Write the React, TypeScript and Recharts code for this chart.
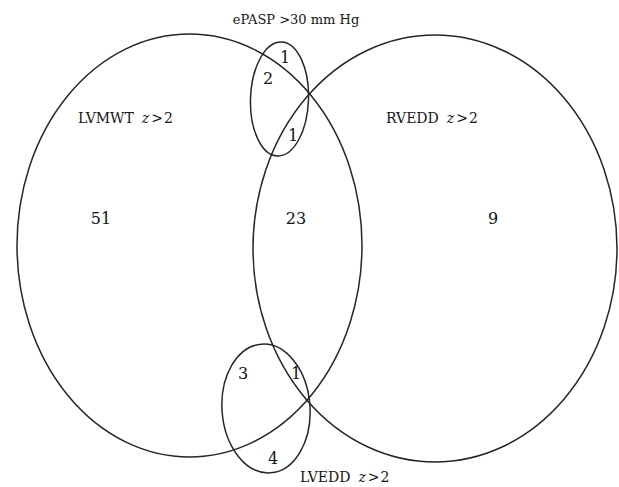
import React from 'react';
import { ScatterChart, Scatter, XAxis, YAxis } from 'recharts';

// ---- data ----
const setNames = ['LVMWT', 'RVEDD', 'ePASP >30 mm Hg', 'LVEDD'];
const setCriteria = ['z', 'z', '', 'z'];
const setThresholds = ['2', '2', '', '2'];
const regionNames = [
  'LVMWT only',
  'LVMWT ∩ RVEDD',
  'RVEDD only',
  'ePASP only',
  'ePASP ∩ LVMWT',
  'ePASP ∩ RVEDD',
  'LVEDD ∩ LVMWT',
  'LVEDD ∩ LVMWT ∩ RVEDD',
  'LVEDD only',
];
const regionCounts = [51, 23, 9, 1, 2, 1, 3, 1, 4];

// ---- layout (diagram coordinates) ----
const W = 619;
const H = 487;
const ellipseLayout = [
  { x: 189.5, y: 245.5, rx: 172.5, ry: 211.5, rot: 0 },
  { x: 435, y: 248.5, rx: 182, ry: 213.5, rot: 0 },
  { x: 279.5, y: 99, rx: 29, ry: 57, rot: 2 },
  { x: 266, y: 408.5, rx: 44, ry: 64.5, rot: -4 },
];
const setLabelLayout = [
  { x: 78, y: 118, anchor: 'start', size: 14 },
  { x: 386, y: 118, anchor: 'start', size: 14 },
  { x: 296, y: 19, anchor: 'middle', size: 13 },
  { x: 300, y: 477, anchor: 'start', size: 14 },
];
const regionLayout = [
  { x: 101, y: 218 },
  { x: 296, y: 218 },
  { x: 493, y: 218 },
  { x: 285, y: 57 },
  { x: 268, y: 78 },
  { x: 293, y: 135 },
  { x: 243, y: 373 },
  { x: 296, y: 373 },
  { x: 273, y: 458 },
];

const ellipses = setNames.map((name, i) => ({ name, ...ellipseLayout[i] }));
const setLabels = setNames.map((name, i) => ({
  name,
  crit: setCriteria[i],
  thr: setThresholds[i],
  ...setLabelLayout[i],
}));
const regions = regionNames.map((name, i) => ({
  name,
  count: regionCounts[i],
  ...regionLayout[i],
}));

const FONT = '"DejaVu Serif", serif';
const STROKE = '#262626';
const TEXT = '#141414';

const EllipseShape = (props: any) => {
  const { cx, cy, payload } = props;
  if (cx == null || cy == null) return null;
  return (
    <ellipse
      cx={cx}
      cy={cy}
      rx={payload.rx * (W / W)}
      ry={payload.ry * (H / H)}
      transform={`rotate(${payload.rot} ${cx} ${cy})`}
      fill="none"
      stroke={STROKE}
      strokeWidth={1.5}
    />
  );
};

const SetLabelShape = (props: any) => {
  const { cx, cy, payload } = props;
  if (cx == null || cy == null) return null;
  return (
    <text
      x={cx}
      y={cy}
      textAnchor={payload.anchor}
      dominantBaseline="central"
      fontFamily={FONT}
      fontSize={payload.size}
      fill={TEXT}
    >
      {payload.name}
      {payload.crit ? (
        <>
          <tspan dx={8} fontStyle="italic">
            {payload.crit}
          </tspan>
          <tspan dx={2}>&gt;</tspan>
          <tspan dx={1}>{payload.thr}</tspan>
        </>
      ) : null}
    </text>
  );
};

const RegionShape = (props: any) => {
  const { cx, cy, payload } = props;
  if (cx == null || cy == null) return null;
  return (
    <text
      x={cx}
      y={cy}
      textAnchor="middle"
      dominantBaseline="central"
      fontFamily={FONT}
      fontSize={16}
      fill={TEXT}
    >
      {payload.count}
    </text>
  );
};

export default function App() {
  return (
    <div style={{ position: 'absolute', left: 0, top: 0, width: W, height: H, background: '#fff' }}>
      <ScatterChart width={W} height={H} margin={{ top: 0, right: 0, bottom: 0, left: 0 }}>
        <XAxis type="number" dataKey="x" domain={[0, W]} hide />
        <YAxis type="number" dataKey="y" domain={[0, H]} reversed hide />
        <Scatter data={ellipses} shape={EllipseShape} isAnimationActive={false} />
        <Scatter data={setLabels} shape={SetLabelShape} isAnimationActive={false} />
        <Scatter data={regions} shape={RegionShape} isAnimationActive={false} />
      </ScatterChart>
    </div>
  );
}
